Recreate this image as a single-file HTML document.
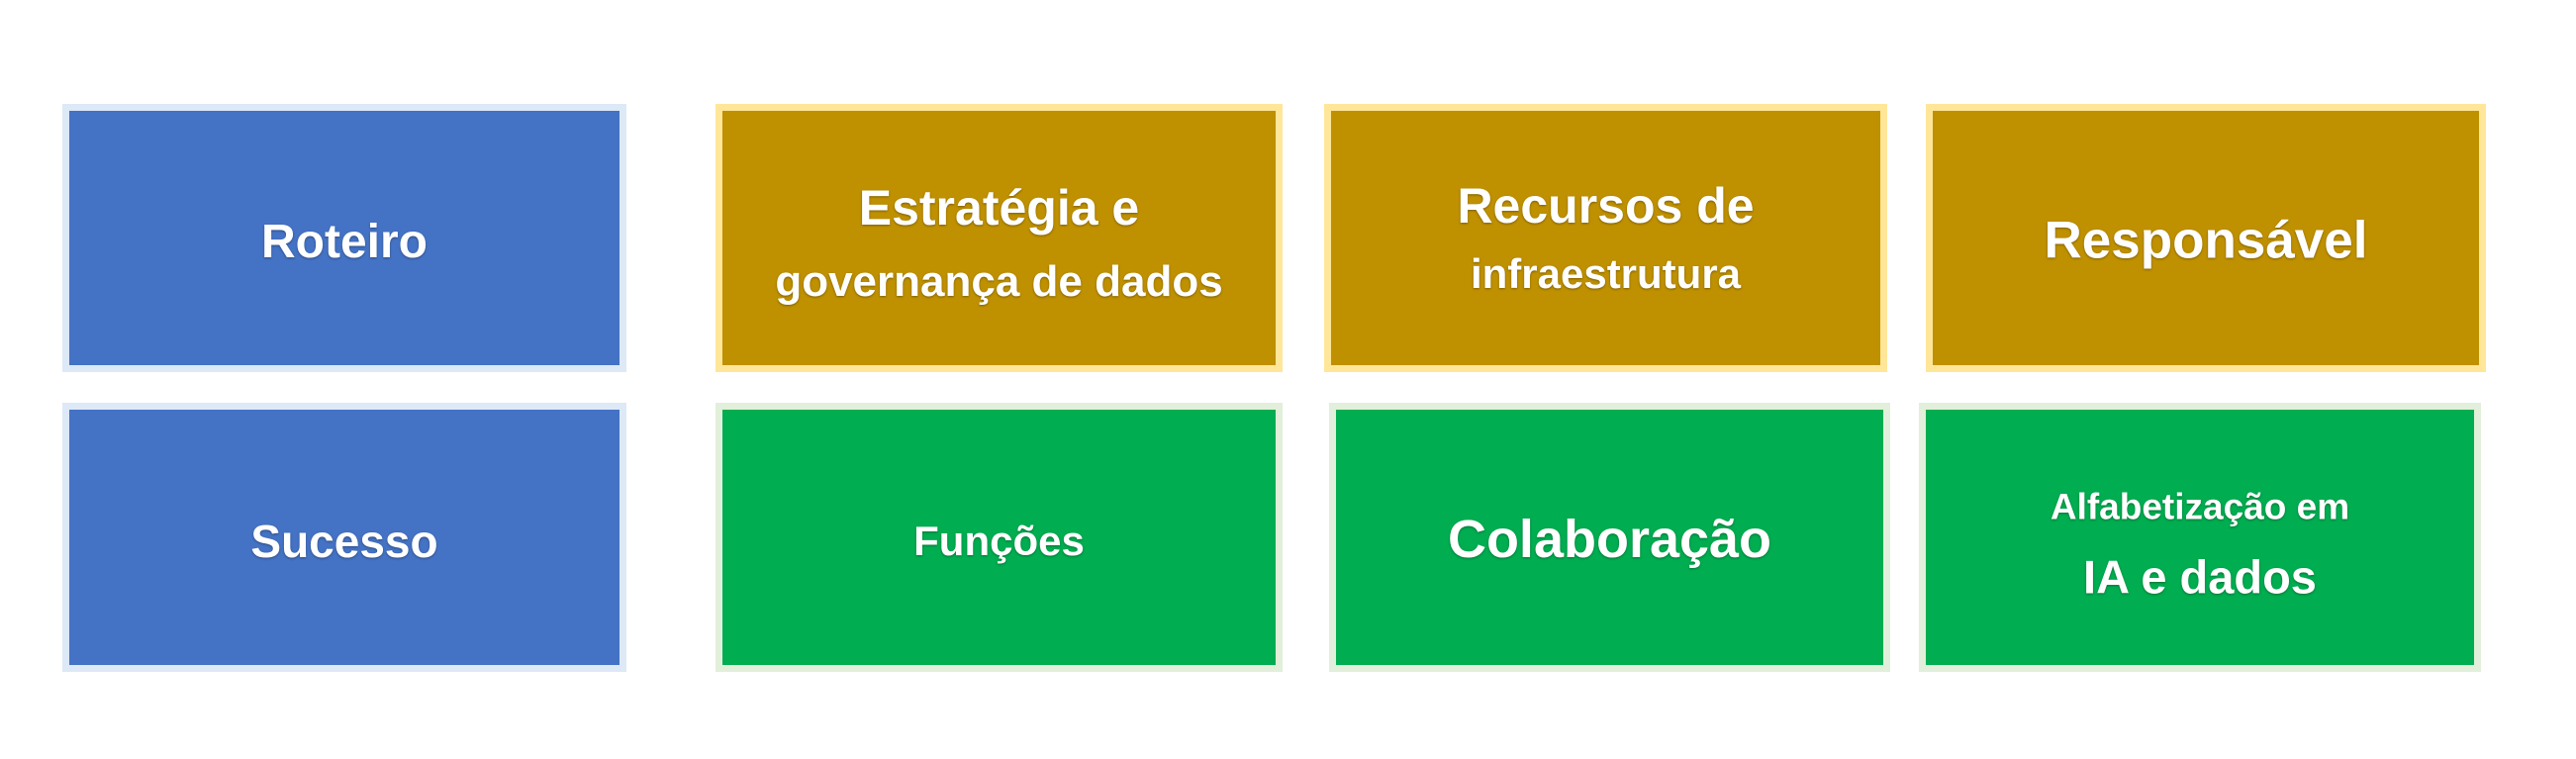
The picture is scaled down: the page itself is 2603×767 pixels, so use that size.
<!DOCTYPE html>
<html><head><meta charset="utf-8"><style>
html,body{margin:0;padding:0;background:#fff;}
body{width:2603px;height:767px;position:relative;overflow:hidden;font-family:"Liberation Sans",sans-serif;}
.b{position:absolute;box-sizing:border-box;border:7px solid;}
.blue{background:#4472C4;border-color:#dde9f6;}
.gold{background:#BF9000;border-color:#ffe699;}
.green{background:#00AD50;border-color:#e2efda;}
.t{position:absolute;left:0;width:100%;text-align:center;color:#fff;white-space:nowrap;line-height:1;transform:translateY(-50%);text-shadow:0 1px 2px rgba(0,0,0,0.35);font-weight:bold;}
</style></head><body>
<div class="b blue" style="left:63px;top:105px;width:570px;height:271px"><div class="t" style="top:133px;font-size:48px">Roteiro</div></div>
<div class="b gold" style="left:723px;top:105px;width:573px;height:271px"><div class="t" style="top:98px;font-size:50px">Estratégia e</div><div class="t" style="top:173px;font-size:44px">governança de dados</div></div>
<div class="b gold" style="left:1338px;top:105px;width:569px;height:271px"><div class="t" style="top:96px;font-size:50px">Recursos de</div><div class="t" style="top:165px;font-size:42px">infraestrutura</div></div>
<div class="b gold" style="left:1946px;top:105px;width:566px;height:271px"><div class="t" style="top:131px;font-size:53px">Responsável</div></div>

<div class="b blue" style="left:63px;top:407px;width:570px;height:272px"><div class="t" style="top:133px;font-size:46px">Sucesso</div></div>
<div class="b green" style="left:723px;top:407px;width:573px;height:272px"><div class="t" style="top:133px;font-size:42px">Funções</div></div>
<div class="b green" style="left:1343px;top:407px;width:567px;height:272px"><div class="t" style="top:131px;font-size:54px">Colaboração</div></div>
<div class="b green" style="left:1939px;top:407px;width:568px;height:272px"><div class="t" style="top:98px;font-size:37px">Alfabetização em</div><div class="t" style="top:169px;font-size:47px">IA e dados</div></div>
</body></html>
